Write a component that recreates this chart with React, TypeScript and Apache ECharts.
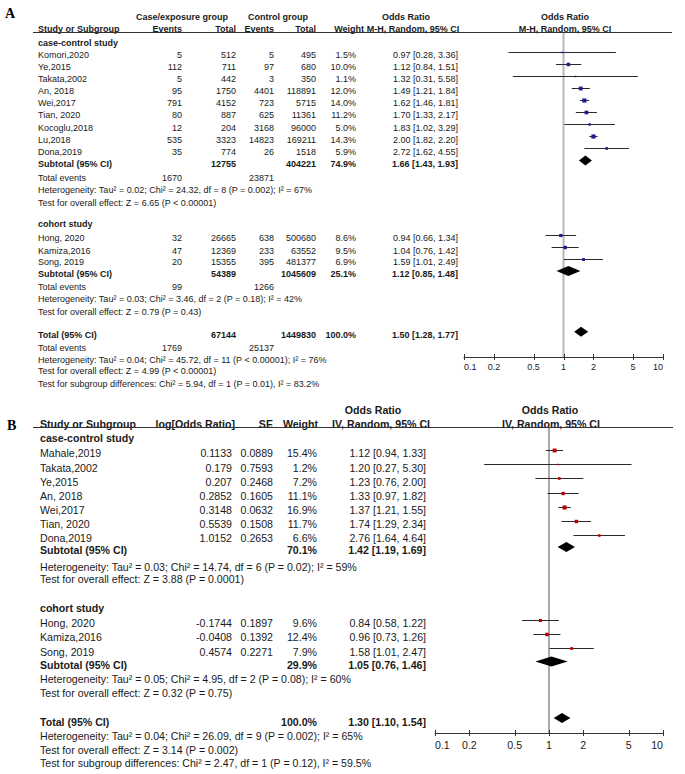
import React, { useEffect, useRef } from "react";
import * as echarts from "echarts";

// ================= Panel A data (M-H, Random) =================
const aCcNames = ["Komori,2020", "Ye,2015", "Takata,2002", "An, 2018", "Wei,2017", "Tian, 2020", "Kocoglu,2018", "Lu,2018", "Dona,2019"];
const aCcCaseEvents = [5, 112, 5, 95, 791, 80, 12, 535, 35];
const aCcCaseTotal = [512, 711, 442, 1750, 4152, 887, 204, 3323, 774];
const aCcCtrlEvents = [5, 97, 3, 4401, 723, 625, 3168, 14823, 26];
const aCcCtrlTotal = [495, 680, 350, 118891, 5715, 11361, 96000, 169211, 1518];
const aCcWeight = [1.5, 10.0, 1.1, 12.0, 14.0, 11.2, 5.0, 14.3, 5.9];
const aCcOR = [0.97, 1.12, 1.32, 1.49, 1.62, 1.70, 1.83, 2.00, 2.72];
const aCcLo = [0.28, 0.84, 0.31, 1.21, 1.46, 1.33, 1.02, 1.82, 1.62];
const aCcHi = [3.36, 1.51, 5.58, 1.84, 1.81, 2.17, 3.29, 2.20, 4.55];

const aCoNames = ["Hong, 2020", "Kamiza,2016", "Song, 2019"];
const aCoCaseEvents = [32, 47, 20];
const aCoCaseTotal = [26665, 12369, 15355];
const aCoCtrlEvents = [638, 233, 395];
const aCoCtrlTotal = [500680, 63552, 481377];
const aCoWeight = [8.6, 9.5, 6.9];
const aCoOR = [0.94, 1.04, 1.59];
const aCoLo = [0.66, 0.76, 1.01];
const aCoHi = [1.34, 1.42, 2.49];

// summaries: [case-control subtotal, cohort subtotal, overall total]
const aSumCaseTotal = [12755, 54389, 67144];
const aSumCtrlTotal = [404221, 1045609, 1449830];
const aSumCaseEvents = [1670, 99, 1769];
const aSumCtrlEvents = [23871, 1266, 25137];
const aSumWeight = [74.9, 25.1, 100.0];
const aSumOR = [1.66, 1.12, 1.50];
const aSumLo = [1.43, 0.85, 1.28];
const aSumHi = [1.93, 1.48, 1.77];
const aHeterogeneity = [
  "Heterogeneity: Tau² = 0.02; Chi² = 24.32, df = 8 (P = 0.002); I² = 67%",
  "Heterogeneity: Tau² = 0.03; Chi² = 3.46, df = 2 (P = 0.18); I² = 42%",
  "Heterogeneity: Tau² = 0.04; Chi² = 45.72, df = 11 (P < 0.00001); I² = 76%",
];
const aOverallEffect = [
  "Test for overall effect: Z = 6.65 (P < 0.00001)",
  "Test for overall effect: Z = 0.79 (P = 0.43)",
  "Test for overall effect: Z = 4.99 (P < 0.00001)",
];
const aSubgroupDiff = "Test for subgroup differences: Chi² = 5.94, df = 1 (P = 0.01), I² = 83.2%";

// ================= Panel B data (IV, Random) =================
const bCcNames = ["Mahale,2019", "Takata,2002", "Ye,2015", "An, 2018", "Wei,2017", "Tian, 2020", "Dona,2019"];
const bCcLogOR = ["0.1133", "0.179", "0.207", "0.2852", "0.3148", "0.5539", "1.0152"];
const bCcSE = ["0.0889", "0.7593", "0.2468", "0.1605", "0.0632", "0.1508", "0.2653"];
const bCcWeight = [15.4, 1.2, 7.2, 11.1, 16.9, 11.7, 6.6];
const bCcOR = [1.12, 1.20, 1.23, 1.33, 1.37, 1.74, 2.76];
const bCcLo = [0.94, 0.27, 0.76, 0.97, 1.21, 1.29, 1.64];
const bCcHi = [1.33, 5.30, 2.00, 1.82, 1.55, 2.34, 4.64];

const bCoNames = ["Hong, 2020", "Kamiza,2016", "Song, 2019"];
const bCoLogOR = ["-0.1744", "-0.0408", "0.4574"];
const bCoSE = ["0.1897", "0.1392", "0.2271"];
const bCoWeight = [9.6, 12.4, 7.9];
const bCoOR = [0.84, 0.96, 1.58];
const bCoLo = [0.58, 0.73, 1.01];
const bCoHi = [1.22, 1.26, 2.47];

const bSumWeight = [70.1, 29.9, 100.0];
const bSumOR = [1.42, 1.05, 1.30];
const bSumLo = [1.19, 0.76, 1.10];
const bSumHi = [1.69, 1.46, 1.54];
const bHeterogeneity = [
  "Heterogeneity: Tau² = 0.03; Chi² = 14.74, df = 6 (P = 0.02); I² = 59%",
  "Heterogeneity: Tau² = 0.05; Chi² = 4.95, df = 2 (P = 0.08); I² = 60%",
  "Heterogeneity: Tau² = 0.04; Chi² = 26.09, df = 9 (P = 0.002); I² = 65%",
];
const bOverallEffect = [
  "Test for overall effect: Z = 3.88 (P = 0.0001)",
  "Test for overall effect: Z = 0.32 (P = 0.75)",
  "Test for overall effect: Z = 3.14 (P = 0.002)",
];
const bSubgroupDiff = "Test for subgroup differences: Chi² = 2.47, df = 1 (P = 0.12), I² = 59.5%";

// axis ticks
const tickValues = [0.1, 0.2, 0.5, 1, 2, 5, 10];
const tickLabels = ["0.1", "0.2", "0.5", "1", "2", "5", "10"];

// ================= Layout (row positions in row units) =================
const A_ROW = {
  ccHeader: 0, ccStudies: [1, 2, 3, 4, 5, 6, 7, 8, 9], ccSub: 10, ccEv: 11.15, ccHet: 12.17, ccTest: 13.27,
  coHeader: 15.0, coStudies: [16.17, 17.2, 18.16], coSub: 19.15, coEv: 20.22, coHet: 21.2, coTest: 22.24,
  tot: 24.17, totEv: 25.27, totHet: 26.24, totTest: 27.2, subgroup: 28.22,
};
const B_ROW = {
  ccHeader: -0.1, ccStudies: [1, 2, 3, 4, 5, 6, 7], ccSub: 7.85, ccHet: 9.0, ccTest: 9.87,
  coHeader: 11.93, coStudies: [12.99, 13.98, 14.99], coSub: 15.93, coHet: 16.92, coTest: 17.93,
  tot: 19.93, totHet: 20.92, totTest: 21.93, subgroup: 22.87,
};
const A_Y = { min: -0.83, max: 26.0 };
const B_Y = { min: -0.86, max: 20.73 };
const A_COL = { name: 38, caseEv: 182, caseTot: 236, ctrlEv: 274, ctrlTot: 316, weight: 356, or: 458 };
const B_COL = { name: 40, logOR: 232, se: 273, weight: 317, or: 426 };
const FONT = "'Liberation Sans', Arial, sans-serif";
const A_FS = 9;
const B_FS = 10.6;
const TEXT_COLOR = "#1a1a1a";

type Cell = { t: string; x: number; a: "left" | "right" | "center"; b?: boolean };
type TRow = { row: number; cells: Cell[] };

const fmtCI = (o: number, l: number, h: number) => `${o.toFixed(2)} [${l.toFixed(2)}, ${h.toFixed(2)}]`;
const pct = (w: number) => `${w.toFixed(1)}%`;
const L = (t: string, x: number, b = false): Cell => ({ t, x, a: "left", b });
const R = (t: string | number, x: number, b = false): Cell => ({ t: String(t), x, a: "right", b });

function buildTextA(): TRow[] {
  const c = A_COL;
  const rows: TRow[] = [];
  rows.push({ row: A_ROW.ccHeader, cells: [L("case-control study", c.name, true)] });
  aCcNames.forEach((n, i) => rows.push({
    row: A_ROW.ccStudies[i],
    cells: [L(n, c.name), R(aCcCaseEvents[i], c.caseEv), R(aCcCaseTotal[i], c.caseTot), R(aCcCtrlEvents[i], c.ctrlEv),
      R(aCcCtrlTotal[i], c.ctrlTot), R(pct(aCcWeight[i]), c.weight), R(fmtCI(aCcOR[i], aCcLo[i], aCcHi[i]), c.or)],
  }));
  const summary = (k: number, row: number, label: string) => rows.push({
    row, cells: [L(label, c.name, true), R(aSumCaseTotal[k], c.caseTot, true), R(aSumCtrlTotal[k], c.ctrlTot, true),
      R(pct(aSumWeight[k]), c.weight, true), R(fmtCI(aSumOR[k], aSumLo[k], aSumHi[k]), c.or, true)],
  });
  const events = (k: number, row: number) => rows.push({
    row, cells: [L("Total events", c.name), R(aSumCaseEvents[k], c.caseEv), R(aSumCtrlEvents[k], c.ctrlEv)],
  });
  summary(0, A_ROW.ccSub, "Subtotal (95% CI)");
  events(0, A_ROW.ccEv);
  rows.push({ row: A_ROW.ccHet, cells: [L(aHeterogeneity[0], c.name)] });
  rows.push({ row: A_ROW.ccTest, cells: [L(aOverallEffect[0], c.name)] });
  rows.push({ row: A_ROW.coHeader, cells: [L("cohort study", c.name, true)] });
  aCoNames.forEach((n, i) => rows.push({
    row: A_ROW.coStudies[i],
    cells: [L(n, c.name), R(aCoCaseEvents[i], c.caseEv), R(aCoCaseTotal[i], c.caseTot), R(aCoCtrlEvents[i], c.ctrlEv),
      R(aCoCtrlTotal[i], c.ctrlTot), R(pct(aCoWeight[i]), c.weight), R(fmtCI(aCoOR[i], aCoLo[i], aCoHi[i]), c.or)],
  }));
  summary(1, A_ROW.coSub, "Subtotal (95% CI)");
  events(1, A_ROW.coEv);
  rows.push({ row: A_ROW.coHet, cells: [L(aHeterogeneity[1], c.name)] });
  rows.push({ row: A_ROW.coTest, cells: [L(aOverallEffect[1], c.name)] });
  summary(2, A_ROW.tot, "Total (95% CI)");
  events(2, A_ROW.totEv);
  rows.push({ row: A_ROW.totHet, cells: [L(aHeterogeneity[2], c.name)] });
  rows.push({ row: A_ROW.totTest, cells: [L(aOverallEffect[2], c.name)] });
  rows.push({ row: A_ROW.subgroup, cells: [L(aSubgroupDiff, c.name)] });
  return rows;
}

function buildTextB(): TRow[] {
  const c = B_COL;
  const rows: TRow[] = [];
  rows.push({ row: B_ROW.ccHeader, cells: [L("case-control study", c.name, true)] });
  bCcNames.forEach((n, i) => rows.push({
    row: B_ROW.ccStudies[i],
    cells: [L(n, c.name), R(bCcLogOR[i], c.logOR), R(bCcSE[i], c.se), R(pct(bCcWeight[i]), c.weight),
      R(fmtCI(bCcOR[i], bCcLo[i], bCcHi[i]), c.or)],
  }));
  const summary = (k: number, row: number, label: string) => rows.push({
    row, cells: [L(label, c.name, true), R(pct(bSumWeight[k]), c.weight, true), R(fmtCI(bSumOR[k], bSumLo[k], bSumHi[k]), c.or, true)],
  });
  summary(0, B_ROW.ccSub, "Subtotal (95% CI)");
  rows.push({ row: B_ROW.ccHet, cells: [L(bHeterogeneity[0], c.name)] });
  rows.push({ row: B_ROW.ccTest, cells: [L(bOverallEffect[0], c.name)] });
  rows.push({ row: B_ROW.coHeader, cells: [L("cohort study", c.name, true)] });
  bCoNames.forEach((n, i) => rows.push({
    row: B_ROW.coStudies[i],
    cells: [L(n, c.name), R(bCoLogOR[i], c.logOR), R(bCoSE[i], c.se), R(pct(bCoWeight[i]), c.weight),
      R(fmtCI(bCoOR[i], bCoLo[i], bCoHi[i]), c.or)],
  }));
  summary(1, B_ROW.coSub, "Subtotal (95% CI)");
  rows.push({ row: B_ROW.coHet, cells: [L(bHeterogeneity[1], c.name)] });
  rows.push({ row: B_ROW.coTest, cells: [L(bOverallEffect[1], c.name)] });
  summary(2, B_ROW.tot, "Total (95% CI)");
  rows.push({ row: B_ROW.totHet, cells: [L(bHeterogeneity[2], c.name)] });
  rows.push({ row: B_ROW.totTest, cells: [L(bOverallEffect[2], c.name)] });
  rows.push({ row: B_ROW.subgroup, cells: [L(bSubgroupDiff, c.name)] });
  return rows;
}

function textSeries(rows: TRow[], g: number, fontSize: number) {
  return {
    type: "custom", xAxisIndex: g, yAxisIndex: g, silent: true, clip: false, z: 5,
    data: rows.map((r) => [1, r.row]),
    renderItem: (params: any, api: any) => {
      const y = api.coord([1, api.value(1)])[1];
      const cells = rows[params.dataIndex].cells;
      return {
        type: "group",
        children: cells.map((c) => ({
          type: "text", x: c.x, y,
          style: { text: c.t, fill: TEXT_COLOR, fontSize, fontFamily: FONT, fontWeight: c.b ? "bold" : "normal", align: c.a, verticalAlign: "middle" },
        })),
      };
    },
  };
}

function forestSeries(or: number[], lo: number[], hi: number[], rows: number[], w: number[], g: number, color: string, k: number, off: number) {
  return {
    type: "custom", xAxisIndex: g, yAxisIndex: g, silent: true, clip: false, z: 4,
    encode: { x: [0, 1, 2], y: 3 },
    data: or.map((o, i) => [o, lo[i], hi[i], rows[i], w[i]]),
    renderItem: (params: any, api: any) => {
      const r = api.value(3) + off;
      const pm = api.coord([api.value(0), r]);
      const pl = api.coord([api.value(1), r]);
      const ph = api.coord([api.value(2), r]);
      const s = Math.max(1.6, k * Math.sqrt(api.value(4)));
      const y = Math.round(pm[1]) + 0.5;
      return {
        type: "group",
        children: [
          { type: "line", shape: { x1: pl[0], y1: y, x2: ph[0], y2: y }, style: { stroke: "#2a2a2a", lineWidth: 1 } },
          { type: "rect", shape: { x: pm[0] - s / 2, y: y - s / 2, width: s, height: s }, style: { fill: color } },
        ],
      };
    },
  };
}

function diamondSeries(or: number[], lo: number[], hi: number[], rows: number[], g: number, half: number, off: number) {
  return {
    type: "custom", xAxisIndex: g, yAxisIndex: g, silent: true, clip: false, z: 4,
    encode: { x: [0, 1, 2], y: 3 },
    data: or.map((o, i) => [o, lo[i], hi[i], rows[i]]),
    renderItem: (params: any, api: any) => {
      const r = api.value(3) + off;
      const pm = api.coord([api.value(0), r]);
      const pl = api.coord([api.value(1), r]);
      const ph = api.coord([api.value(2), r]);
      return {
        type: "polygon",
        shape: { points: [[pl[0], pm[1]], [pm[0], pm[1] - half], [ph[0], pm[1]], [pm[0], pm[1] + half]] },
        style: { fill: "#000" },
      };
    },
  };
}

function refLineSeries(g: number, yr: { min: number; max: number }, color: string, width: number) {
  return {
    type: "custom", xAxisIndex: g, yAxisIndex: g, silent: true, clip: false, z: 2,
    encode: { x: 0, y: [1, 2] },
    data: [[1, yr.min, yr.max]],
    renderItem: (params: any, api: any) => {
      const p1 = api.coord([api.value(0), api.value(1)]);
      const p2 = api.coord([api.value(0), api.value(2)]);
      return { type: "line", shape: { x1: p1[0], y1: p1[1], x2: p2[0], y2: p2[1] }, style: { stroke: color, lineWidth: width } };
    },
  };
}

function tickSeries(g: number, yr: { min: number; max: number }, fontSize: number, labelGap: number) {
  return {
    type: "custom", xAxisIndex: g, yAxisIndex: g, silent: true, clip: false, z: 5,
    data: tickValues.map((v) => [v, yr.max]),
    renderItem: (params: any, api: any) => {
      const p = api.coord([api.value(0), api.value(1)]);
      const i = params.dataIndex;
      const x = Math.round(p[0]) + 0.5;
      const align = i === 0 ? "left" : i === tickValues.length - 1 ? "right" : "center";
      return {
        type: "group",
        children: [
          { type: "line", shape: { x1: x, y1: p[1] - 3, x2: x, y2: p[1] + 3 }, style: { stroke: "#333", lineWidth: 1 } },
          { type: "text", x: p[0], y: p[1] + labelGap, style: { text: tickLabels[i], fill: TEXT_COLOR, fontSize, fontFamily: FONT, align, verticalAlign: "middle" } },
        ],
      };
    },
  };
}

function hText(text: string, x: number, y: number, align: string, fontSize: number, bold = true) {
  return { type: "text", x, y, silent: true, style: { text, fill: TEXT_COLOR, fontSize, fontFamily: FONT, fontWeight: bold ? "bold" : "normal", align, verticalAlign: "middle" } };
}

function buildOption(): any {
  const axisX = (g: number) => ({
    type: "log", logBase: 10, min: 0.1, max: 10, gridIndex: g,
    axisLine: { show: true, onZero: false, lineStyle: { color: "#333", width: 1 } },
    axisTick: { show: false }, axisLabel: { show: false }, splitLine: { show: false },
  });
  const axisY = (g: number, yr: { min: number; max: number }) => ({
    type: "value", gridIndex: g, inverse: true, min: yr.min, max: yr.max, show: false,
  });
  return {
    animation: false,
    backgroundColor: "#fff",
    grid: [
      { left: 464, top: 33, width: 199, height: 324, containLabel: false },
      { left: 435, top: 427, width: 228, height: 306, containLabel: false },
    ],
    xAxis: [axisX(0), axisX(1)],
    yAxis: [axisY(0, A_Y), axisY(1, B_Y)],
    graphic: [
      { type: "text", x: 5, y: 13, silent: true, style: { text: "A", fill: "#000", fontSize: 14, fontFamily: "'Liberation Serif', serif", fontWeight: "bold", align: "left", verticalAlign: "middle" } },
      hText("Case/exposure group", 182, 16.5, "center", A_FS),
      hText("Control group", 278, 16.5, "center", A_FS),
      hText("Odds Ratio", 406, 16.5, "center", A_FS),
      hText("Odds Ratio", 565, 16.5, "center", A_FS),
      hText("Study or Subgroup", A_COL.name, 29, "left", A_FS),
      hText("Events", A_COL.caseEv, 29, "right", A_FS),
      hText("Total", A_COL.caseTot, 29, "right", A_FS),
      hText("Events", A_COL.ctrlEv, 29, "right", A_FS),
      hText("Total", A_COL.ctrlTot, 29, "right", A_FS),
      hText("Weight", 364, 29, "right", A_FS),
      hText("M-H, Random, 95% CI", 413, 29, "center", A_FS),
      hText("M-H, Random, 95% CI", 565, 29, "center", A_FS),
      { type: "line", silent: true, shape: { x1: 33, y1: 32.5, x2: 672, y2: 32.5 }, style: { stroke: "#333", lineWidth: 1 } },

      { type: "text", x: 7, y: 425, silent: true, style: { text: "B", fill: "#000", fontSize: 14, fontFamily: "'Liberation Serif', serif", fontWeight: "bold", align: "left", verticalAlign: "middle" } },
      hText("Odds Ratio", 373, 410, "center", B_FS),
      hText("Odds Ratio", 550, 410, "center", B_FS),
      hText("Study or Subgroup", B_COL.name, 423.5, "left", B_FS),
      hText("log[Odds Ratio]", 235, 423.5, "right", B_FS),
      hText("SE", B_COL.se, 423.5, "right", B_FS),
      hText("Weight", 318, 423.5, "right", B_FS),
      hText("IV, Random, 95% CI", 430, 423.5, "right", B_FS),
      hText("IV, Random, 95% CI", 551, 423.5, "center", B_FS),
      { type: "line", silent: true, shape: { x1: 33, y1: 427.5, x2: 673, y2: 427.5 }, style: { stroke: "#333", lineWidth: 1 } },
    ],
    series: [
      refLineSeries(0, A_Y, "#b8b8b8", 2),
      refLineSeries(1, B_Y, "#555", 1),
      forestSeries(aCcOR, aCcLo, aCcHi, A_ROW.ccStudies, aCcWeight, 0, "#1c1c8e", 1.1, -0.27),
      forestSeries(aCoOR, aCoLo, aCoHi, A_ROW.coStudies, aCoWeight, 0, "#1c1c8e", 1.1, -0.27),
      diamondSeries(aSumOR, aSumLo, aSumHi, [A_ROW.ccSub, A_ROW.coSub, A_ROW.tot], 0, 5, -0.27),
      forestSeries(bCcOR, bCcLo, bCcHi, B_ROW.ccStudies, bCcWeight, 1, "#c00000", 1.0, -0.23),
      forestSeries(bCoOR, bCoLo, bCoHi, B_ROW.coStudies, bCoWeight, 1, "#c00000", 1.0, -0.23),
      diamondSeries(bSumOR, bSumLo, bSumHi, [B_ROW.ccSub, B_ROW.coSub, B_ROW.tot], 1, 5, -0.25),
      tickSeries(0, A_Y, A_FS, 10),
      tickSeries(1, B_Y, B_FS, 12),
      textSeries(buildTextA(), 0, A_FS),
      textSeries(buildTextB(), 1, B_FS),
    ],
  };
}

export default function App() {
  const ref = useRef<HTMLDivElement>(null);
  useEffect(() => {
    const chart = echarts.init(ref.current!, null, { renderer: "svg" });
    chart.setOption(buildOption());
    return () => chart.dispose();
  }, []);
  return <div ref={ref} style={{ position: "absolute", left: 0, top: 0, width: 685, height: 774, background: "#fff" }} />;
}
